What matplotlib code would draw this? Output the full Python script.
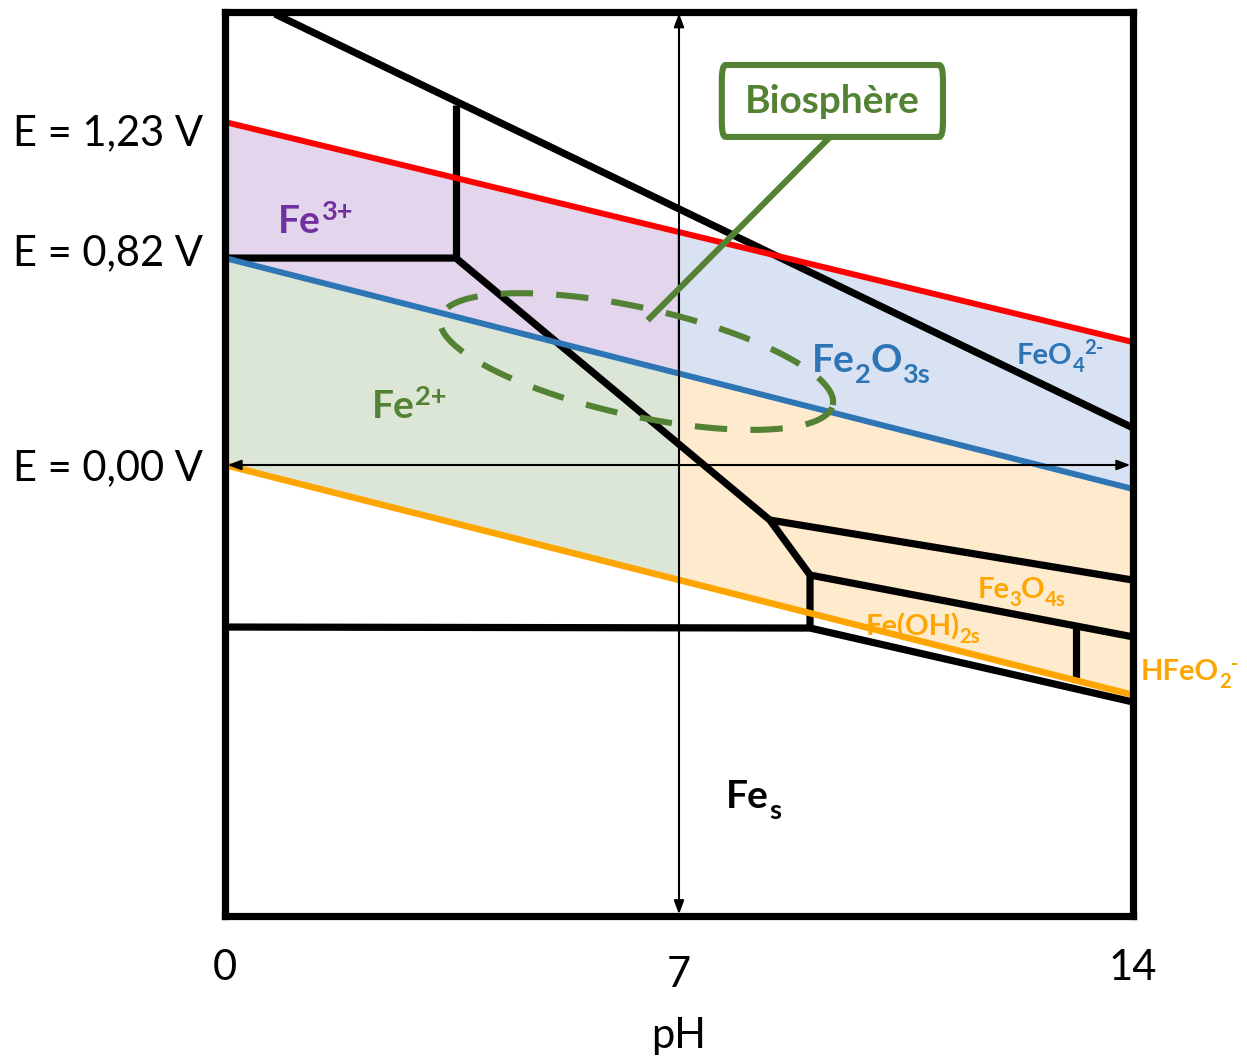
import numpy as np
import matplotlib.pyplot as plt
from matplotlib.patches import Polygon, FancyBboxPatch

plt.rcParams['font.family'] = ['Lato', 'DejaVu Sans']

# schematic E scale (V), pH 0..14
ph_ends = [0, 14]
e_o2 = [1.359, 0.487]      # O2/H2O, red
e_fe = [0.82, -0.095]      # Fe3+/Fe2+ and Fe2O3 limit, blue
e_h2 = [0.0, -0.911]       # H+/H2, orange

# black boundaries (pH list, E list)
b_feo4 = ([0.771, 14], [1.787, 0.147])
b_fe3_top = ([3.56, 3.56], [1.426, 0.82])
b_fe3_fe2 = ([0, 3.56, 8.40, 9.02, 9.02], [0.82, 0.82, -0.218, -0.436, -0.646])
b_fe3o4_up = ([8.40, 14], [-0.218, -0.456])
b_fe3o4_lo = ([9.02, 14], [-0.436, -0.681])
b_fes = ([0, 9.02, 14], [-0.642, -0.646, -0.939])
b_hfeo2 = ([13.12, 13.12], [-0.638, -0.85])

xtick_vals = [0, 7, 14]
ylabels = ["E = 1,23 V", "E = 0,82 V", "E = 0,00 V"]

RED = '#ff0000'
BLUE = '#2e75b6'
ORANGE = '#ffa500'
GREEN = '#548235'
PURPLE = '#7030a0'

fig = plt.figure(figsize=(12.47, 10.58), dpi=100)
ax = fig.add_axes([225/1247, 1-916/1058, 908/1247, 904/1058])
ax.set_xlim(0, 14)
ax.set_ylim(-1.787, 1.795)
ax.set_xticks([])
ax.set_yticks([])
for s in ax.spines.values():
    s.set_linewidth(5.2)
    s.set_zorder(10)

mid = 7
o2_7 = np.interp(mid, ph_ends, e_o2)
fe_7 = np.interp(mid, ph_ends, e_fe)
h2_7 = np.interp(mid, ph_ends, e_h2)

ax.add_patch(Polygon([(0, e_o2[0]), (mid, o2_7), (mid, fe_7), (0, e_fe[0])],
                     closed=True, fc='#e3d5ec', ec='#3c5aa6', lw=1.8, zorder=1))
ax.add_patch(Polygon([(mid, o2_7), (14, e_o2[1]), (14, e_fe[1]), (mid, fe_7)],
                     closed=True, fc='#d9e2f2', ec='none', zorder=1))
ax.add_patch(Polygon([(0, e_fe[0]), (mid, fe_7), (mid, h2_7), (0, e_h2[0])],
                     closed=True, fc='#dce6d6', ec='#8fb0d8', lw=1.2, zorder=1))
ax.add_patch(Polygon([(mid, fe_7), (14, e_fe[1]), (14, e_h2[1]), (mid, h2_7)],
                     closed=True, fc='#feebcd', ec='none', zorder=1))


def chem(x, y, parts, color, size):
    # main text, then sub/superscripts chained to the right
    prev = ax.text(x, y, parts[0][0], color=color, fontsize=size, fontweight='bold',
                   ha='left', va='baseline', zorder=2)
    for txt, kind in parts[1:]:
        fs = size if kind == 'n' else size * 0.7
        dy = {'n': 0, 'sub': -0.28 * size, 'sup': 0.34 * size}[kind]
        prev = ax.annotate(txt, xy=(1, y), xycoords=(prev, 'data'),
                           xytext=(0, dy), textcoords='offset points',
                           color=color, fontsize=fs, fontweight='bold',
                           ha='left', va='baseline', zorder=2)


chem(0.817, 0.919, [('Fe', 'n'), ('3+', 'sup')], PURPLE, 28)
chem(2.266, 0.186, [('Fe', 'n'), ('2+', 'sup')], GREEN, 28)
chem(9.051, 0.369, [('Fe', 'n'), ('2', 'sub'), ('O', 'n'), ('3s', 'sub')], BLUE, 28)
chem(12.21, 0.400, [('FeO', 'n'), ('4', 'sub'), ('2-', 'sup')], BLUE, 21)
chem(11.60, -0.527, [('Fe', 'n'), ('3', 'sub'), ('O', 'n'), ('4s', 'sub')], ORANGE, 21)
chem(9.87, -0.674, [('Fe(OH)', 'n'), ('2s', 'sub')], ORANGE, 21)
chem(14.12, -0.852, [('HFeO', 'n'), ('2', 'sub'), ('-', 'sup')], ORANGE, 21)
chem(7.725, -1.359, [('Fe', 'n'), ('s', 'sub')], 'black', 28)

for xs, ys in [b_feo4, b_fe3_top, b_fe3_fe2, b_fe3o4_up, b_fe3o4_lo, b_fes, b_hfeo2]:
    ax.plot(xs, ys, color='black', lw=5.2, solid_capstyle='butt',
            solid_joinstyle='miter', zorder=3)

ax.plot(ph_ends, e_o2, color=RED, lw=4.3, zorder=4)
ax.plot(ph_ends, e_fe, color=BLUE, lw=4.3, zorder=4)
ax.plot(ph_ends, e_h2, color=ORANGE, lw=4.7, zorder=4)

# axes arrows
arr = dict(arrowstyle='<|-|>,head_length=0.8,head_width=0.3', color='black',
           lw=1.5, shrinkA=0, shrinkB=0)
ax.annotate('', xy=(7, 1.79), xytext=(7, -1.78), arrowprops=arr, zorder=5)
ax.annotate('', xy=(13.96, 0), xytext=(0.04, 0), arrowprops=arr, zorder=5)

# biosphere ellipse (drawn in pixel-like units to keep its shape)
px_ph = 908 / 14
px_v = 904 / (1.795 + 1.787)
t = np.linspace(0, 2 * np.pi, 300)
a_px, b_px, ang = 201.0, 54.0, np.deg2rad(-12.5)
ux = a_px * np.cos(t)
uy = b_px * np.sin(t)
ex = 6.345 + (ux * np.cos(ang) - uy * np.sin(ang)) / px_ph
ey = 0.410 + (ux * np.sin(ang) + uy * np.cos(ang)) / px_v
ax.plot(ex, ey, color=GREEN, lw=4.4, dashes=(5.3, 3.8), dash_capstyle='butt', zorder=6)

# callout box
ax.plot([9.33, 6.55], [1.30, 0.582], color=GREEN, lw=4.4, zorder=6)
ax.add_patch(FancyBboxPatch((7.66, 1.30), 3.41, 0.285,
                            boxstyle='round,pad=0,rounding_size=0.06',
                            fc='white', ec=GREEN, lw=4.4, zorder=7))
ax.text(9.37, 1.44, 'Biosphère', color=GREEN, fontsize=28, fontweight='bold',
        ha='center', va='center', zorder=8)

# axis texts
tick_y = [-1.993, -2.021, -1.993]
for v, yp in zip(xtick_vals, tick_y):
    ax.text(v, yp, str(v), fontsize=30, ha='center', va='center', clip_on=False)
ax.text(7, -2.262, 'pH', fontsize=30, ha='center', va='center', clip_on=False)
for txt, yp in zip(ylabels, [1.315, 0.84, -0.012]):
    ax.text(-0.34, yp, txt, fontsize=30, ha='right', va='center', clip_on=False)

fig.savefig('out.png', dpi=100)
